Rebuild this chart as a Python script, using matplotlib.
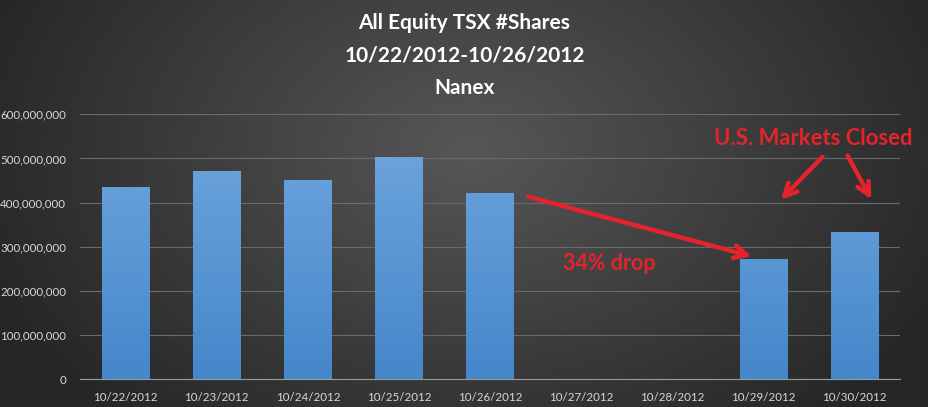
# recreate the Nanex TSX shares bar chart with matplotlib

import numpy as np
import matplotlib.pyplot as plt
from matplotlib.colors import LinearSegmentedColormap

plt.rcParams['font.family'] = ['Lato', 'DejaVu Sans']

# data
dates = ['10/22/2012', '10/23/2012', '10/24/2012', '10/25/2012', '10/26/2012',
         '10/27/2012', '10/28/2012', '10/29/2012', '10/30/2012']
shares = [435e6, 472e6, 451e6, 503e6, 422e6, 0, 0, 272e6, 333e6]
yticks = [0, 100e6, 200e6, 300e6, 400e6, 500e6, 600e6]

fig = plt.figure(figsize=(9.29, 4.07), dpi=100)

# radial grey background
bg = fig.add_axes([0, 0, 1, 1], zorder=-10)
yy, xx = np.mgrid[0:407, 0:929]
r = np.sqrt(((xx - 470) / 600.0) ** 2 + ((yy - 150) / 420.0) ** 2)
shade = np.clip(0.34 - 0.22 * r, 0.15, 0.34)
bg.imshow(np.dstack([shade] * 3), aspect='auto', extent=[0, 1, 0, 1])
bg.axis('off')

ax = fig.add_axes([80 / 929, 1 - 379.3 / 407, 820 / 929, 265 / 407])
ax.patch.set_alpha(0)

x = np.arange(len(dates))
bars = ax.bar(x, shares, width=0.52, color='#5b98d6', zorder=2)

# vertical blue gradient on each bar
cmap = LinearSegmentedColormap.from_list('barg', ['#4587cb', '#72a8de'])
grad = np.linspace(0, 1, 256).reshape(-1, 1)
for b in bars:
    h = b.get_height()
    if h <= 0:
        continue
    x0 = b.get_x()
    im = ax.imshow(grad, cmap=cmap, origin='lower', aspect='auto',
                   extent=[x0, x0 + b.get_width(), 0, 600e6], zorder=3)
    im.set_clip_path(b)

ax.set_xlim(-0.5, len(dates) - 0.5)
ax.set_ylim(0, 600e6)
ax.set_xticks(x)
ax.set_xticklabels(dates)
ax.set_yticks(yticks)
ax.set_yticklabels([f'{int(v):,}' for v in yticks])
ax.tick_params(length=0, colors='#d9d9d9', labelsize=8.3)
ax.tick_params(axis='x', pad=9)
ax.tick_params(axis='y', pad=10)
ax.yaxis.grid(True, color='#6a6a6a', lw=0.8, zorder=0)
for s in ['top', 'right', 'left']:
    ax.spines[s].set_visible(False)
ax.spines['bottom'].set_color('#9a9a9a')
ax.spines['bottom'].set_zorder(4)

fig.text(0.5, 1 - 23 / 407, 'All Equity TSX #Shares', ha='center', va='center',
         color='white', fontsize=15, fontweight='bold')
fig.text(0.5, 1 - 56 / 407, '10/22/2012-10/26/2012', ha='center', va='center',
         color='white', fontsize=15, fontweight='bold')
fig.text(0.5, 1 - 88 / 407, 'Nanex', ha='center', va='center',
         color='white', fontsize=15, fontweight='bold')

red = '#e5232c'
ax.text(7.55, 546e6, 'U.S. Markets Closed', ha='center', va='center',
        color=red, fontsize=15.8, fontweight='bold')
ax.text(5.31, 263e6, '34% drop', ha='center', va='center',
        color=red, fontsize=15.5, fontweight='bold')

arrow = dict(arrowstyle='->, head_length=0.9, head_width=0.45', color=red, lw=3.2)
ax.annotate('', xy=(6.9, 277e6), xytext=(4.39, 415e6), arrowprops=arrow)
ax.annotate('', xy=(7.17, 402e6), xytext=(7.67, 508e6), arrowprops=arrow)
ax.annotate('', xy=(8.2, 402e6), xytext=(7.91, 512e6), arrowprops=arrow)

fig.savefig('out.png', dpi=100)
